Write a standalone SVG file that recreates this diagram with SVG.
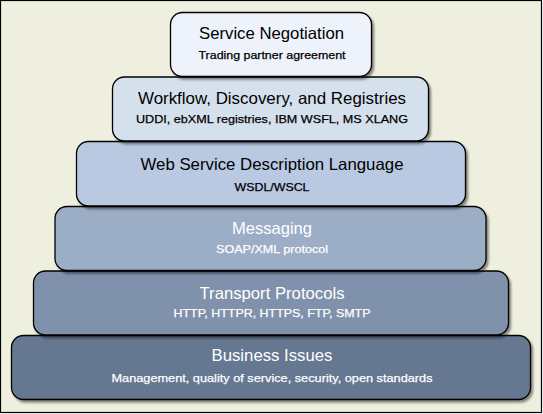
<svg xmlns="http://www.w3.org/2000/svg" width="543" height="414" viewBox="0 0 543 414">
<defs>
<filter id="sh" x="-5%" y="-10%" width="115%" height="130%">
<feDropShadow dx="2" dy="2.5" stdDeviation="1.3" flood-color="#000" flood-opacity="0.45"/>
</filter>
</defs>
<style>
.box{stroke:#000;stroke-width:1.3;filter:url(#sh)}
.t{font-family:"Liberation Sans",Arial,sans-serif;font-size:16.5px;text-anchor:middle}
.s{font-family:"Liberation Sans",Arial,sans-serif;font-size:11.5px;text-anchor:middle;stroke-width:0.25px}
.dk{fill:#000}
.lt{fill:#fff}
.s.dk{stroke:#000}
.s.lt{stroke:#fff}
</style>
<rect x="0.5" y="0.5" width="541" height="412" fill="#efefdf" stroke="#000" stroke-width="1.2"/>
<g id="business">
<rect class="box" x="11.5" y="335.5" width="519" height="64" rx="12" fill="#657791"/>
<text class="t lt" x="272" y="361" textLength="121" lengthAdjust="spacingAndGlyphs">Business Issues</text>
<text class="s lt" x="272" y="381.5" textLength="321" lengthAdjust="spacingAndGlyphs">Management, quality of service, security, open standards</text>
</g>
<g id="transport">
<rect class="box" x="33.5" y="271" width="475" height="64" rx="12" fill="#7f91ab"/>
<text class="t lt" x="272" y="299" textLength="145" lengthAdjust="spacingAndGlyphs">Transport Protocols</text>
<text class="s lt" x="272" y="317.3" textLength="197" lengthAdjust="spacingAndGlyphs">HTTP, HTTPR, HTTPS, FTP, SMTP</text>
</g>
<g id="messaging">
<rect class="box" x="55" y="206.5" width="431" height="64" rx="12" fill="#9cadc6"/>
<text class="t lt" x="272" y="234" textLength="80" lengthAdjust="spacingAndGlyphs">Messaging</text>
<text class="s lt" x="272" y="253.3" textLength="112" lengthAdjust="spacingAndGlyphs">SOAP/XML protocol</text>
</g>
<g id="wsdl">
<rect class="box" x="76.5" y="141.5" width="389" height="64.5" rx="12" fill="#b9c9e2"/>
<text class="t dk" x="272" y="170" textLength="263" lengthAdjust="spacingAndGlyphs">Web Service Description Language</text>
<text class="s dk" x="272" y="190.5" textLength="75" lengthAdjust="spacingAndGlyphs">WSDL/WSCL</text>
</g>
<g id="workflow">
<rect class="box" x="112.5" y="77" width="316" height="64" rx="12" fill="#d5e0ed"/>
<text class="t dk" x="272" y="103.5" textLength="268" lengthAdjust="spacingAndGlyphs">Workflow, Discovery, and Registries</text>
<text class="s dk" x="272" y="123" textLength="272" lengthAdjust="spacingAndGlyphs">UDDI, ebXML registries, IBM WSFL, MS XLANG</text>
</g>
<g id="negotiation">
<rect class="box" x="170.5" y="12.5" width="201" height="64" rx="12" fill="#eef3fb"/>
<text class="t dk" x="271.5" y="39" textLength="145" lengthAdjust="spacingAndGlyphs">Service Negotiation</text>
<text class="s dk" x="272" y="59.3" textLength="147" lengthAdjust="spacingAndGlyphs">Trading partner agreement</text>
</g>
<g id="connectors"/>
</svg>
